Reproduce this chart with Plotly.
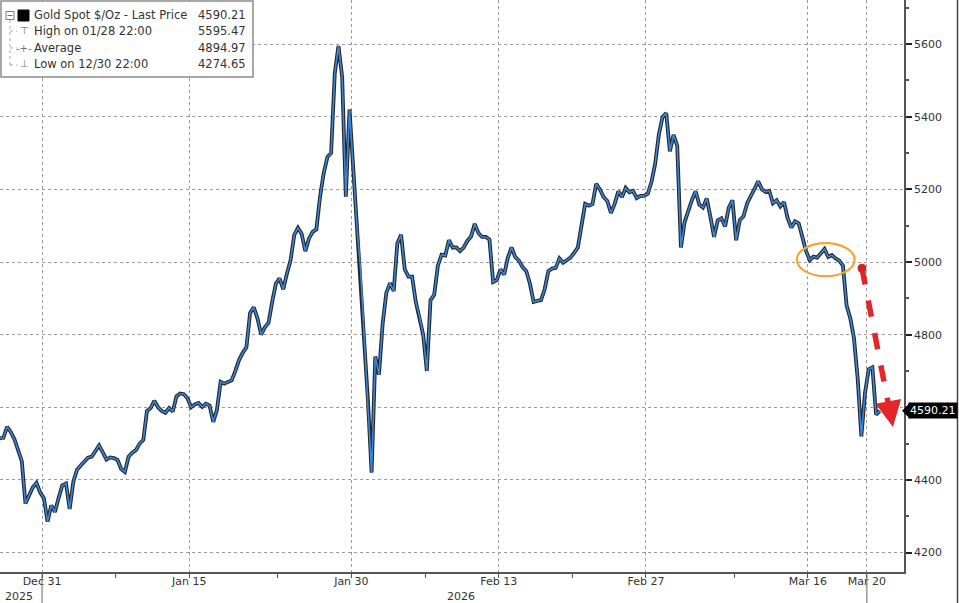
import plotly.graph_objects as go

# Gold spot, 4 readings per trading day
dec_days = ["2025-12-26", "2025-12-29", "2025-12-30", "2025-12-31"]
dec_prices = [
    [4515, 4516, 4546, 4532], [4512, 4480, 4452, 4335],
    [4360, 4380, 4392, 4365], [4350, 4285, 4330, 4312],
]
jan_days = ["2026-01-02", "2026-01-05", "2026-01-06", "2026-01-07", "2026-01-08",
            "2026-01-09", "2026-01-12", "2026-01-13", "2026-01-14", "2026-01-15",
            "2026-01-16", "2026-01-19", "2026-01-20", "2026-01-21", "2026-01-22",
            "2026-01-23", "2026-01-26", "2026-01-27", "2026-01-28", "2026-01-29",
            "2026-01-30"]
jan_prices = [
    [4350, 4385, 4390, 4320], [4395, 4428, 4440, 4452], [4461, 4464, 4480, 4495],
    [4476, 4456, 4462, 4460], [4455, 4430, 4422, 4464], [4475, 4482, 4500, 4510],
    [4590, 4598, 4618, 4600], [4590, 4585, 4598, 4588], [4630, 4638, 4636, 4625],
    [4600, 4608, 4612, 4601], [4610, 4605, 4560, 4593], [4670, 4665, 4670, 4674],
    [4700, 4730, 4750, 4765], [4860, 4875, 4845, 4800], [4820, 4832, 4890, 4940],
    [4955, 4925, 4968, 5005], [5075, 5094, 5078, 5030], [5065, 5083, 5090, 5180],
    [5245, 5289, 5300, 5520], [5595, 5510, 5180, 5420], [5260, 5100, 4980, 4790],
]
feb_days = ["2026-02-02", "2026-02-03", "2026-02-04", "2026-02-05", "2026-02-06",
            "2026-02-09", "2026-02-10", "2026-02-11", "2026-02-12", "2026-02-13",
            "2026-02-16", "2026-02-17", "2026-02-18", "2026-02-19", "2026-02-20",
            "2026-02-23", "2026-02-24", "2026-02-25", "2026-02-26", "2026-02-27"]
feb_prices = [
    [4620, 4420, 4740, 4690], [4830, 4915, 4942, 4920], [5052, 5075, 4980, 4960],
    [4960, 4890, 4850, 4800], [4700, 4895, 4910, 4990], [5020, 5018, 5060, 5040],
    [5040, 5030, 5040, 5058], [5070, 5105, 5080, 5069], [5069, 5062, 4945, 4950],
    [4980, 4965, 5012, 5040], [5014, 5004, 4986, 4975], [4940, 4890, 4893, 4895],
    [4925, 4975, 4982, 4984], [5010, 4998, 5005, 5012], [5025, 5040, 5100, 5160],
    [5155, 5160, 5215, 5200], [5179, 5168, 5135, 5160], [5195, 5179, 5204, 5192],
    [5196, 5176, 5182, 5182], [5188, 5220, 5270, 5350],
]
mar_days = ["2026-03-02", "2026-03-03", "2026-03-04", "2026-03-05", "2026-03-06",
            "2026-03-09", "2026-03-10", "2026-03-11", "2026-03-12", "2026-03-13",
            "2026-03-16", "2026-03-17", "2026-03-18", "2026-03-19", "2026-03-20"]
mar_prices = [
    [5399, 5410, 5305, 5350], [5320, 5040, 5110, 5143], [5171, 5195, 5158, 5150],
    [5175, 5125, 5069, 5115], [5120, 5098, 5150, 5170], [5060, 5116, 5126, 5162],
    [5182, 5205, 5222, 5200], [5193, 5196, 5162, 5170], [5153, 5165, 5120, 5095],
    [5112, 5106, 5065, 5030], [5005, 5015, 5012, 5025], [5036, 5014, 5019, 5010],
    [5004, 4990, 4880, 4845], [4790, 4680, 4520, 4640], [4705, 4710, 4580, 4590.21],
]
slot_hours = ["03:00", "09:00", "15:00", "21:00"]

tick_dates = ["2025-12-31", "2026-01-15", "2026-01-30", "2026-02-13",
              "2026-02-27", "2026-03-16", "2026-03-20"]
tick_text = ["Dec 31", "Jan 15", "Jan 30", "Feb 13", "Feb 27", "Mar 16", "Mar 20"]
minor_dates = ["2026-01-08", "2026-01-23", "2026-02-06", "2026-02-20", "2026-03-09"]
y_ticks = [4200, 4400, 4600, 4800, 5000, 5200, 5400, 5600]

legend_labels = ["Gold Spot $/Oz - Last Price", "High on 01/28 22:00",
                 "Average", "Low on 12/30 22:00"]
legend_values = ["4590.21", "5595.47", "4894.97", "4274.65"]
last_price = 4590.21

times, prices = [], []
for days, vals in [(dec_days, dec_prices), (jan_days, jan_prices),
                   (feb_days, feb_prices), (mar_days, mar_prices)]:
    for d, row in zip(days, vals):
        for h, v in zip(slot_hours, row):
            times.append(d + " " + h)
            prices.append(v)

W, H = 959, 603
MR, MB = 55, 31
PW, PH = W - MR, H - MB
FONT = "DejaVu Sans"


def px(x):
    return x / PW


def py(y):
    return 1 - y / PH


fig = go.Figure()
fig.add_trace(go.Scatter(x=times, y=prices, mode="lines",
                         line=dict(color="#262626", width=3.8), hoverinfo="skip"))
fig.add_trace(go.Scatter(x=times, y=prices, mode="lines",
                         line=dict(color="#3a86d9", width=1.6)))

shapes = []
# legend box
shapes.append(dict(type="rect", xref="paper", yref="paper", x0=px(1), x1=px(253),
                   y0=py(77), y1=py(1), line=dict(color="#8a8a8a", width=1.5),
                   fillcolor="white", layer="above"))
shapes.append(dict(type="rect", xref="paper", yref="paper", x0=px(6), x1=px(14),
                   y0=py(19.5), y1=py(11.5), line=dict(color="#777", width=1), fillcolor="white"))
shapes.append(dict(type="line", xref="paper", yref="paper", x0=px(7.5), x1=px(12.5),
                   y0=py(15.5), y1=py(15.5), line=dict(color="#777", width=1)))
shapes.append(dict(type="rect", xref="paper", yref="paper", x0=px(18), x1=px(29),
                   y0=py(21), y1=py(10), line=dict(color="black", width=1), fillcolor="black"))
shapes.append(dict(type="line", xref="paper", yref="paper", x0=px(10), x1=px(10),
                   y0=py(20), y1=py(65), line=dict(color="#aaa", width=1, dash="dot")))
for yy in (31, 48, 65):
    shapes.append(dict(type="line", xref="paper", yref="paper", x0=px(10), x1=px(17),
                       y0=py(yy), y1=py(yy), line=dict(color="#aaa", width=1, dash="dot")))

# orange ellipse around the mid-March range
shapes.append(dict(type="circle", xref="x", yref="y", x0="2026-03-13 06:00",
                   x1="2026-03-19 04:00", y0=4961, y1=5052,
                   line=dict(color="#f0a63a", width=2.2)))
# red dashed arrow
shapes.append(dict(type="line", xref="x", yref="y", x0="2026-03-19 16:00", y0=4983,
                   x1="2026-03-23 12:00", y1=4600,
                   line=dict(color="#e2262a", width=5.5, dash="dash")))
shapes.append(dict(type="circle", xref="x", yref="y", xsizemode="pixel", ysizemode="pixel",
                   xanchor="2026-03-19 16:00", yanchor=4983, x0=-4, x1=4, y0=-4, y1=4,
                   fillcolor="#d42126", line=dict(color="#d42126", width=1)))
# last price pointer
shapes.append(dict(type="path", xref="paper", yref="y", xsizemode="pixel", ysizemode="pixel",
                   xanchor=1, yanchor=last_price, path="M -2,0 L 6,-8 L 6,8 Z",
                   fillcolor="black", line=dict(width=0)))
# year separators below axis and image frame
for d in ("2025-12-31", "2026-03-20"):
    shapes.append(dict(type="line", xref="x", yref="paper", x0=d, x1=d,
                       y0=0, y1=py(H), line=dict(color="#666", width=1)))
shapes.append(dict(type="line", xref="paper", yref="paper", x0=px(957.5), x1=px(957.5),
                   y0=py(0), y1=py(H), line=dict(color="#444", width=1.5)))

annotations = []
rows_y = [15, 31, 48, 64]
icons = ["", "⊤", "-+-", "⊥"]
for i, yy in enumerate(rows_y):
    annotations.append(dict(xref="paper", yref="paper", x=px(32), y=py(yy),
                            xanchor="left", yanchor="middle", showarrow=False,
                            text=legend_labels[i], font=dict(family=FONT, size=11.5, color="#333")))
    annotations.append(dict(xref="paper", yref="paper", x=px(248), y=py(yy),
                            xanchor="right", yanchor="middle", showarrow=False,
                            text=legend_values[i], font=dict(family=FONT, size=11.5, color="#333")))
    if icons[i]:
        annotations.append(dict(xref="paper", yref="paper", x=px(24), y=py(yy),
                                xanchor="center", yanchor="middle", showarrow=False,
                                text=icons[i], font=dict(family=FONT, size=10, color="#777")))

annotations.append(dict(xref="paper", yref="y", x=1, y=last_price, xanchor="left",
                        yanchor="middle", xshift=4, showarrow=False, text="%.2f" % last_price,
                        bgcolor="black", borderpad=1,
                        font=dict(family=FONT, size=11, color="white")))
annotations.append(dict(xref="x", yref="y", x="2026-03-23 18:30", y=4546,
                        ax=-4, ay=-22, showarrow=True, arrowhead=2, arrowsize=1.3,
                        arrowwidth=4, arrowcolor="#e2262a", text=""))
annotations.append(dict(xref="x", yref="paper", x="2025-12-31", y=0, xanchor="right",
                        yanchor="top", xshift=-7, yshift=-16, showarrow=False, text="2025",
                        font=dict(family=FONT, size=11, color="#333")))
annotations.append(dict(xref="paper", yref="paper", x=px(461), y=0, xanchor="center",
                        yanchor="top", yshift=-16, showarrow=False, text="2026",
                        font=dict(family=FONT, size=11, color="#333")))

fig.update_layout(
    width=W, height=H,
    margin=dict(l=0, r=MR, t=0, b=MB),
    paper_bgcolor="white", plot_bgcolor="white",
    showlegend=False, hovermode=False,
    shapes=shapes, annotations=annotations,
    xaxis=dict(
        type="date",
        range=["2025-12-26 03:30", "2026-03-24 12:30"],
        rangebreaks=[dict(bounds=["sat", "mon"]), dict(values=["2026-01-01"])],
        tickmode="array", tickvals=tick_dates, ticktext=tick_text,
        showgrid=True, gridcolor="#9a9a9a", griddash="dot", gridwidth=1,
        ticks="outside", ticklen=4, tickcolor="#555", ticklabelstandoff=-6,
        showline=True, linecolor="#555", linewidth=1.5,
        tickfont=dict(family=FONT, size=11, color="#333"),
        minor=dict(tickmode="array", tickvals=minor_dates, ticks="outside",
                   ticklen=4, tickcolor="#555", showgrid=False),
        zeroline=False,
    ),
    yaxis=dict(
        side="right",
        range=[4146.5, 5721.4],
        tickmode="array", tickvals=y_ticks,
        showgrid=True, gridcolor="#9a9a9a", griddash="dot", gridwidth=1,
        ticks="outside", ticklen=6, tickwidth=2, tickcolor="#222",
        showline=True, linecolor="#555", linewidth=1.5,
        tickfont=dict(family=FONT, size=11, color="#333"),
        minor=dict(dtick=100, ticks="outside", ticklen=3, tickcolor="#555", showgrid=False),
        zeroline=False,
    ),
)

# page body has a default 8px margin; drop it so the figure fills the window
fig.write_html("out.html", config={"displayModeBar": False},
               post_script="document.body.style.margin='0';")
